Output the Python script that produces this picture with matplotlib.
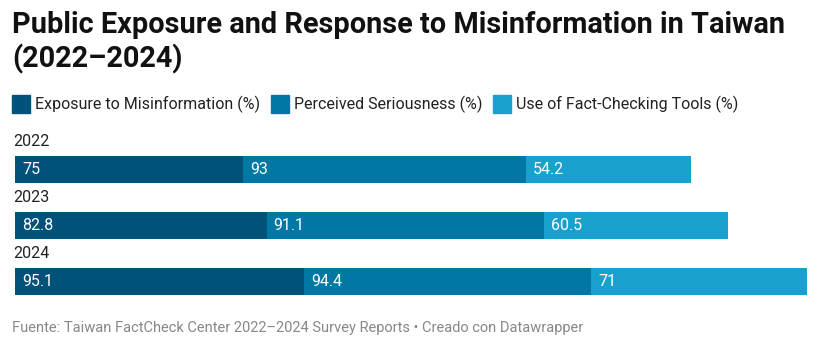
import matplotlib.pyplot as plt

years = ["2022", "2023", "2024"]
exposure = [75, 82.8, 95.1]
seriousness = [93, 91.1, 94.4]
fact_check = [54.2, 60.5, 71]
series_names = ["Exposure to Misinformation (%)", "Perceived Seriousness (%)",
                "Use of Fact-Checking Tools (%)"]
colors = ["#01527a", "#0177a4", "#18a1cd"]

plt.rcParams['font.family'] = ['Roboto', 'DejaVu Sans']

W, H = 822, 353
fig = plt.figure(figsize=(W / 100, H / 100), dpi=100)

# axis spans bars: x=0 at 15px, x=260.5 at 807px
px_per_unit = 792 / 260.5
ax = fig.add_axes([0, 1 - 308.9 / H, 1, 167.25 / H])
ax.set_xlim(-15 / px_per_unit, 260.5 + 15 / px_per_unit)
ax.set_ylim(2.5, -0.5)
ax.axis('off')

series = [exposure, seriousness, fact_check]
ypos = list(range(len(years)))
left = [0] * len(years)
for vals, col in zip(series, colors):
    ax.barh(ypos, vals, left=left, height=0.484, color=col, edgecolor='none')
    for i, v in enumerate(vals):
        ax.text(left[i] + 7 / px_per_unit, i, f"{v:g}", color='white',
                fontsize=11.5, va='center', ha='left')
    left = [l + v for l, v in zip(left, vals)]

for i, y in enumerate(years):
    ax.text(0 - 2 / px_per_unit, i - 0.5, y, fontsize=11.5, color='#222222',
            va='center', ha='left')

fig.text(12 / W, 1 - 11 / H, "Public Exposure and Response to Misinformation in Taiwan\n(2022\u20132024)",
         fontsize=20.8, fontweight='bold', va='top', ha='left', color='#111111',
         linespacing=1.2)

# legend
lx = [12, 271, 493]
for x, name, col in zip(lx, series_names, colors):
    fig.patches.append(plt.Rectangle((x / W, 1 - 113 / H), 18 / W, 18 / H,
                                     transform=fig.transFigure, color=col))
    fig.text((x + 23) / W, 1 - 104 / H, name, fontsize=11.5, color='#222222',
             va='center', ha='left')

fig.text(12 / W, 1 - 328 / H,
         "Fuente: Taiwan FactCheck Center 2022\u20132024 Survey Reports \u2022 Creado con Datawrapper",
         fontsize=10.5, color='#888888', va='center', ha='left')

fig.savefig("out.png", dpi=100)
